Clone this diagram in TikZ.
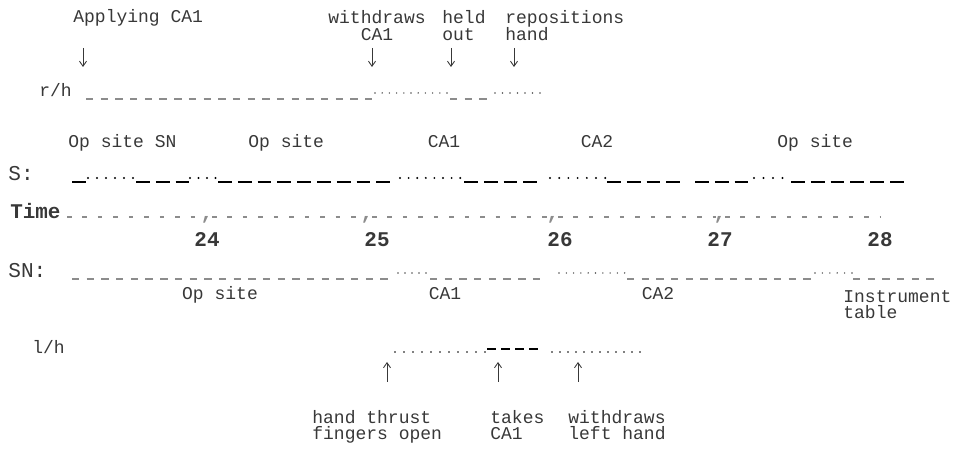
\documentclass[tikz,border=0pt]{standalone}
\usepackage{fontspec}
\setmonofont{Liberation Mono}
\usetikzlibrary{arrows.meta}
\definecolor{ink}{HTML}{383838}
\definecolor{rulegray}{HTML}{8C8C8C}
\definecolor{dotgray}{HTML}{505050}

\begin{document}
\begin{tikzpicture}[x=0.02cm,y=-0.02cm,text=ink,
  font=\ttfamily\fontsize{10.25}{9pt}\selectfont,
  >={Straight Barb[angle=70:3.5pt]},
  every node/.style={inner sep=0pt},
  tag/.style={anchor=north west,align=left},
  toptag/.style={tag,font=\ttfamily\fontsize{10.25}{9.8pt}\selectfont},
  rowname/.style={anchor=base west,font=\ttfamily\fontsize{12}{14}\selectfont},
  tick/.style={font=\ttfamily\bfseries\fontsize{11.9}{14}\selectfont},
  dashrule/.style={rulegray,line width=0.8pt,dash pattern=on 4.2pt off 4.16pt},
  slrule/.style={black,line width=0.9pt,dash pattern=on 7.85pt off 3.42pt},
  timerule/.style={rulegray,line width=0.9pt,dash pattern=on 2.6pt off 6.2pt},
  handrule/.style={black,line width=0.6pt,dash pattern=on 5.1pt off 2.87pt}]

  \useasboundingbox (0,0) rectangle (964,455);

  % right hand
  \node[toptag] (apply) at (73,9) {Applying CA1};
  \node[toptag,align=center,anchor=north] (wdr) at (377,10) {withdraws\\CA1};
  \node[toptag] (held) at (442,10) {held\\out};
  \node[toptag] (repos) at (505,10) {repositions\\hand};
  \foreach \x in {83,372,451,514}
    \draw[->,ink,line width=0.5pt] (\x,48) -- (\x,67);

  \node[anchor=base west] (rh) at (39,97) {r/h};
  \foreach \a/\n in {86/20,450/3}{
    \pgfmathsetmacro{\b}{\a+\n*14.7-7.3}
    \draw[dashrule] (\a,99) -- (\b,99);
  }
  \foreach \a/\n/\p in {375/11/7.2,495/7/7.5}
    \foreach \k in {1,...,\n}
      \fill[dotgray] ({\a+(\k-1)*\p},93) circle (0.45pt);

  % sister
  \node[anchor=base west] (s1) at (68,148) {Op site SN};
  \node[anchor=base west] (s2) at (248,148) {Op site};
  \node[anchor=base] (s3) at (444,148) {CA1};
  \node[anchor=base] (s4) at (597,148) {CA2};
  \node[anchor=base west] (s5) at (777,148) {Op site};
  \node[rowname] (s) at (8,181) {S:};
  \foreach \a/\n in {72/1,136/3,218/9,464/4,607/4,695/3,791/6}{
    \pgfmathsetmacro{\b}{\a+\n*19.8-6}
    \draw[slrule] (\a,182) -- (\b,182);
  }
  \foreach \a/\n/\p in {88/6/9,190/4/8.5,400/8/8.6,550/7/9.2,754/4/9.5}
    \foreach \k in {1,...,\n}
      \fill ({\a+(\k-1)*\p},178) circle (0.6pt);

  % time scale
  \node[tick,anchor=base west] (time) at (10,219) {Time};
  \foreach \a/\b in {67/203,212/363,372/549,558/716,725/880}
    \draw[timerule] (\a,217) -- (\b,217);
  \foreach \x in {207,367,553,720}
    \node[tick,text=rulegray,anchor=base] at (\x,220) {,};
  \foreach \t/\x in {24/207,25/377,26/560,27/720,28/880}
    \node[tick,anchor=base] (t\t) at (\x,247) {\t};

  % scrub nurse
  \node[rowname] (sn) at (8,278) {SN:};
  \foreach \a/\n in {72/22,430/8,627/13,853/6}{
    \pgfmathsetmacro{\b}{\a+\n*14.7-7.3}
    \draw[dashrule] (\a,279) -- (\b,279);
  }
  \foreach \a/\n/\p in {398/5/7,559/10/7.3,815/6/7.4}
    \foreach \k in {1,...,\n}
      \fill[dotgray] ({\a+(\k-1)*\p},273) circle (0.45pt);
  \node[anchor=base] (n1) at (220,300) {Op site};
  \node[anchor=base] (n2) at (445,300) {CA1};
  \node[anchor=base] (n3) at (658,300) {CA2};
  \node[tag] (n4) at (843,290) {Instrument\\table};

  % left hand
  \node[anchor=base west] (lh) at (32,354) {l/h};
  \foreach \a/\n/\p in {395/11/9,552/12/8}
    \foreach \k in {1,...,\n}
      \fill ({\a+(\k-1)*\p},352) circle (0.5pt);
  \draw[handrule] (487,349) -- (538,349);
  \foreach \x in {387,498,578}
    \draw[->,ink,line width=0.5pt] (\x,382) -- (\x,362);
  \node[tag] (thrust) at (312,410) {hand thrust\\fingers open};
  \node[tag] (takes) at (490,410) {takes\\CA1};
  \node[tag] (wdl) at (568,410) {withdraws\\left hand};
\end{tikzpicture}
\end{document}
